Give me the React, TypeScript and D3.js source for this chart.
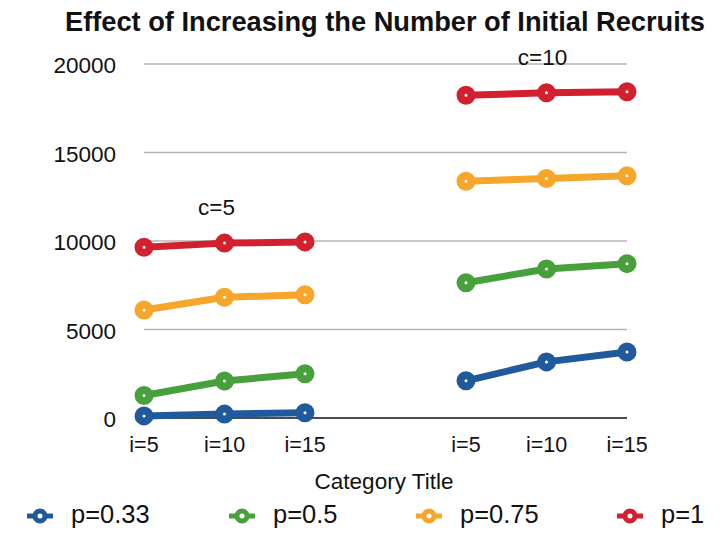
import React from "react";
import * as d3 from "d3";

const categories = ["i=5", "i=10", "i=15", "", "i=5 ", "i=10 ", "i=15 "];
const seriesNames = ["p=0.33", "p=0.5", "p=0.75", "p=1"];
const seriesColors = ["#215A9C", "#47A03B", "#F6A62A", "#D3202E"];
// values for c=5 (first three categories) and c=10 (last three)
const p033 = [120, 220, 300, null, 2100, 3170, 3730];
const p05 = [1270, 2090, 2500, null, 7640, 8420, 8720];
const p075 = [6100, 6820, 6960, null, 13380, 13530, 13680];
const p1 = [9650, 9880, 9950, null, 18230, 18380, 18430];
const seriesValues = [p033, p05, p075, p1];
const yTicks = [0, 5000, 10000, 15000, 20000];
const groupLabels = [
  { text: "c=5", cat: "i=10", value: 12030, dx: -8 },
  { text: "c=10", cat: "i=10 ", value: 20500, dx: -4 },
];

const W = 723;
const H = 547;
const FONT = "'Liberation Sans', Arial, Helvetica, sans-serif";

export default function App() {
  const x = d3.scalePoint<string>().domain(categories).range([144, 627]).padding(0);
  const y = d3.scaleLinear().domain([0, 20000]).range([418, 64]);

  const line = d3
    .line<number | null>()
    .defined((d) => d !== null)
    .x((_, i) => x(categories[i]) as number)
    .y((d) => y(d as number));

  const legendX = [40, 242, 429, 630];

  return (
    <svg width={W} height={H} style={{ position: "absolute", left: 0, top: 0, background: "#fff" }} fontFamily={FONT}>
      <text x={385} y={31} textAnchor="middle" fontSize={27} fontWeight="bold" fill="#111" textLength={640} lengthAdjust="spacingAndGlyphs">
        Effect of Increasing the Number of Initial Recruits
      </text>
      {yTicks.map((t) => (
        <g key={t}>
          {t !== 0 && (
            <line x1={144} x2={627} y1={y(t)} y2={y(t)} stroke="#b4b4b4" strokeWidth={1.6} />
          )}
          <text x={116} y={y(t) + 9} textAnchor="end" fontSize={22.5} fill="#111">
            {t}
          </text>
        </g>
      ))}
      <line x1={144} x2={627} y1={y(0)} y2={y(0)} stroke="#111" strokeWidth={1.6} />
      {categories.map((c) =>
        c.trim() === "" ? null : (
          <text key={c} x={x(c)} y={452} textAnchor="middle" fontSize={21.5} fill="#111">
            {c.trim()}
          </text>
        )
      )}
      {groupLabels.map((g) => (
        <text key={g.text} x={(x(g.cat) as number) + g.dx} y={y(g.value) + 10} textAnchor="middle" fontSize={22.5} fill="#111">
          {g.text}
        </text>
      ))}
      {seriesValues.map((vals, si) => (
        <g key={si}>
          <path d={line(vals) || ""} fill="none" stroke={seriesColors[si]} strokeWidth={7} strokeLinejoin="round" />
          {vals.map((v, i) =>
            v === null ? null : (
              <circle key={i} cx={x(categories[i])} cy={y(v)} r={5.5} fill="#fff" stroke={seriesColors[si]} strokeWidth={8} />
            )
          )}
        </g>
      ))}
      <text x={384} y={489} textAnchor="middle" fontSize={22.5} fill="#111">
        Category Title
      </text>
      {seriesNames.map((n, i) => (
        <g key={n}>
          <line x1={legendX[i] - 13} x2={legendX[i] + 13} y1={516} y2={516} stroke={seriesColors[i]} strokeWidth={5} />
          <circle cx={legendX[i]} cy={516} r={5} fill="#fff" stroke={seriesColors[i]} strokeWidth={5} />
          <text x={legendX[i] + 31} y={523} fontSize={25.5} fill="#111">
            {n}
          </text>
        </g>
      ))}
    </svg>
  );
}
